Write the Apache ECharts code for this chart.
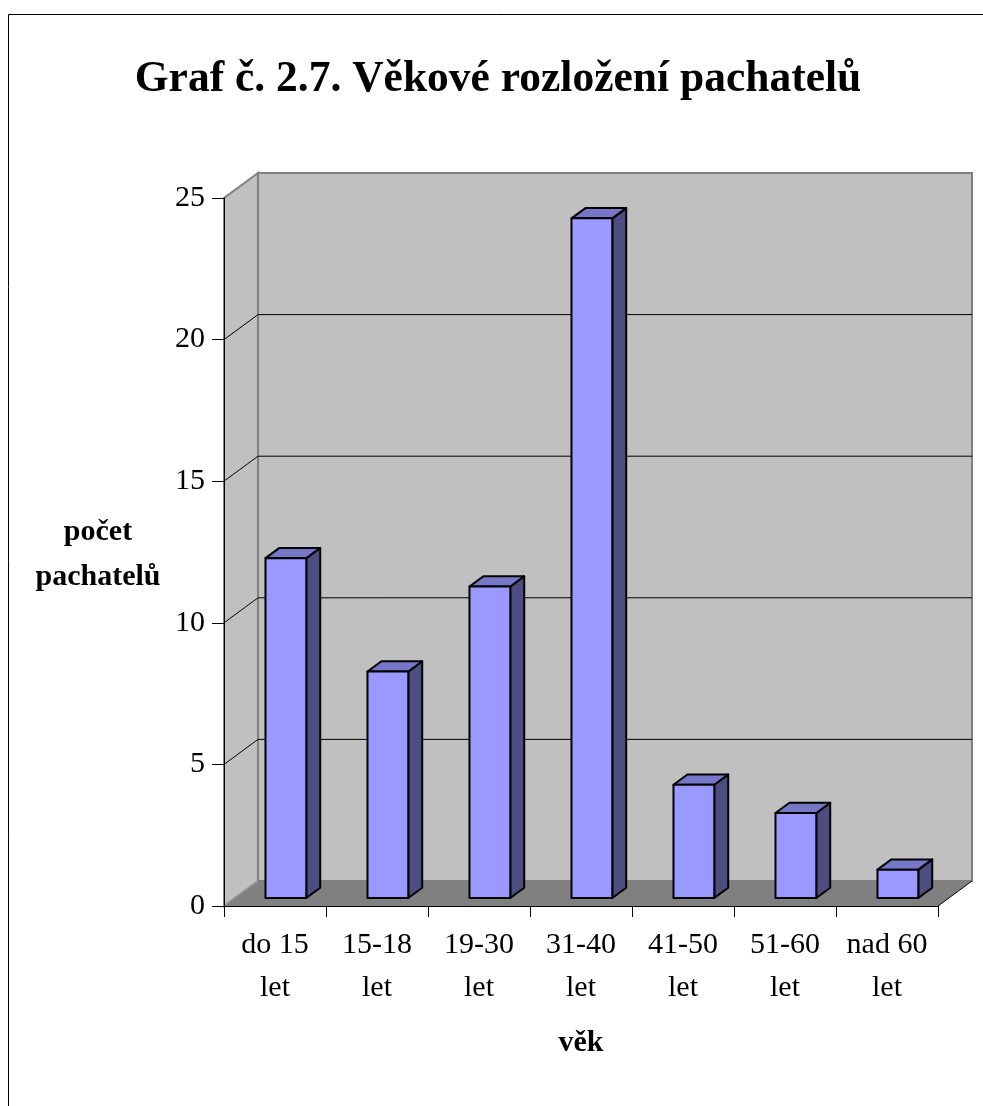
<!DOCTYPE html>
<html>
<head>
<meta charset="utf-8">
<script src="https://cdn.jsdelivr.net/npm/echarts@6/dist/echarts.min.js"></script>
<style>
html,body{margin:0;padding:0;background:#fff;}
#c{width:983px;height:1106px;}
</style>
</head>
<body>
<div id="c"></div>
<script>
const categories = ['do 15 let', '15-18 let', '19-30 let', '31-40 let', '41-50 let', '51-60 let', 'nad 60 let'];
const values = [12, 8, 11, 24, 4, 3, 1];
const yTicks = [0, 5, 10, 15, 20, 25];
const titleText = 'Graf č. 2.7. Věkové rozložení pachatelů';
const yName = 'počet\npachatelů';
const xName = 'věk';

const DX = 34, DY = -25;           // 3D depth vector (pixels)
const F0 = 0.32, FD = 0.41;        // bar position / thickness in depth
const SERIF = '"Liberation Serif","Times New Roman",serif';

const chart = echarts.init(document.getElementById('c'), null, {renderer: 'canvas'});

function wallsRender(params, api) {
  const cs = params.coordSys;
  const x0 = cs.x, x1 = cs.x + cs.width;
  const yb = api.coord([0, 0])[1];
  const yt = api.coord([0, yTicks[yTicks.length - 1]])[1];
  const ch = [];
  ch.push({type: 'polygon', shape: {points: [[x0, yb], [x1, yb], [x1 + DX, yb + DY], [x0 + DX, yb + DY]]},
    style: {fill: '#808080', stroke: null}});
  ch.push({type: 'polygon', shape: {points: [[x0, yb], [x0, yt], [x0 + DX, yt + DY], [x0 + DX, yb + DY]]},
    style: {fill: '#c0c0c0', stroke: '#808080', lineWidth: 2}});
  ch.push({type: 'rect', shape: {x: x0 + DX, y: yt + DY, width: cs.width, height: yb - yt},
    style: {fill: '#c0c0c0', stroke: '#808080', lineWidth: 2}});
  yTicks.forEach(function (v) {
    if (v === 0 || v === yTicks[yTicks.length - 1]) return;
    const y = api.coord([0, v])[1];
    ch.push({type: 'line', shape: {x1: x0, y1: y, x2: x0 + DX, y2: y + DY}, style: {stroke: '#000', lineWidth: 1}});
    ch.push({type: 'line', shape: {x1: x0 + DX, y1: y + DY, x2: x1 + DX, y2: y + DY}, style: {stroke: '#000', lineWidth: 1}});
  });
  ch.push({type: 'line', shape: {x1: x0, y1: yb, x2: x0 + DX, y2: yb + DY}, style: {stroke: '#a0a0a0', lineWidth: 1}});
  ch.push({type: 'line', shape: {x1: x1, y1: yb, x2: x1 + DX, y2: yb + DY}, style: {stroke: '#000', lineWidth: 1}});
  return {type: 'group', children: ch};
}

function barRender(params, api) {
  const i = api.value(0), v = api.value(1);
  const base = api.coord([i, 0]);
  const top = api.coord([i, v]);
  const bw = api.size([1, 0])[0];
  const w = bw * 0.40;
  const ox = F0 * DX, oy = F0 * DY;
  const ddx = FD * DX, ddy = FD * DY;
  const x = base[0] - w / 2 + ox;
  const yb = base[1] + oy, yt = top[1] + oy;
  const st = {stroke: '#000', lineWidth: 2, lineJoin: 'round'};
  return {type: 'group', children: [
    {type: 'polygon', shape: {points: [[x + w, yt], [x + w + ddx, yt + ddy], [x + w + ddx, yb + ddy], [x + w, yb]]},
      style: Object.assign({fill: '#4d4d80'}, st)},
    {type: 'polygon', shape: {points: [[x, yt], [x + ddx, yt + ddy], [x + w + ddx, yt + ddy], [x + w, yt]]},
      style: Object.assign({fill: '#7777c8'}, st)},
    {type: 'rect', shape: {x: x, y: yt, width: w, height: yb - yt},
      style: Object.assign({fill: '#9999ff'}, st)}
  ]};
}

chart.setOption({
  animation: false,
  backgroundColor: '#fff',
  grid: {left: 224, right: 45, top: 198, bottom: 200, containLabel: false},
  xAxis: {
    type: 'category', data: categories, z: 10,
    axisLine: {lineStyle: {color: '#000', width: 1}},
    axisTick: {show: true, length: 11, lineStyle: {color: '#000'}},
    axisLabel: {
      color: '#000', fontFamily: SERIF, fontSize: 30, lineHeight: 43, margin: 18, interval: 0,
      formatter: function (s) { const k = s.lastIndexOf(' '); return s.slice(0, k) + '\n' + s.slice(k + 1); }
    },
    splitLine: {show: false}
  },
  yAxis: {
    type: 'value', min: 0, max: 25, interval: 5, z: 10,
    axisLine: {show: true, lineStyle: {color: '#000', width: 1}},
    axisTick: {show: true, length: 12, lineStyle: {color: '#000'}},
    axisLabel: {color: '#000', fontFamily: SERIF, fontSize: 30, margin: 19},
    splitLine: {show: false}
  },
  graphic: [
    {type: 'rect', shape: {x: 8.5, y: 14.5, width: 1100, height: 1200}, style: {fill: null, stroke: '#000', lineWidth: 1}, z: 100},
    {type: 'text', x: 498, y: 80, style: {text: titleText, fontFamily: SERIF, fontWeight: 'bold', fontSize: 43.5, fill: '#000', align: 'center', verticalAlign: 'middle'}},
    {type: 'text', x: 98, y: 555, style: {text: yName, fontFamily: SERIF, fontWeight: 'bold', fontSize: 30, lineHeight: 45, fill: '#000', align: 'center', verticalAlign: 'middle'}},
    {type: 'text', x: 581, y: 1043, style: {text: xName, fontFamily: SERIF, fontWeight: 'bold', fontSize: 30, fill: '#000', align: 'center', verticalAlign: 'middle'}}
  ],
  series: [
    {type: 'custom', renderItem: wallsRender, data: [0], z: 1, silent: true},
    {type: 'custom', renderItem: barRender, data: values.map(function (v, i) { return [i, v]; }), encode: {x: 0, y: 1}, z: 2}
  ]
});
</script>
</body>
</html>
